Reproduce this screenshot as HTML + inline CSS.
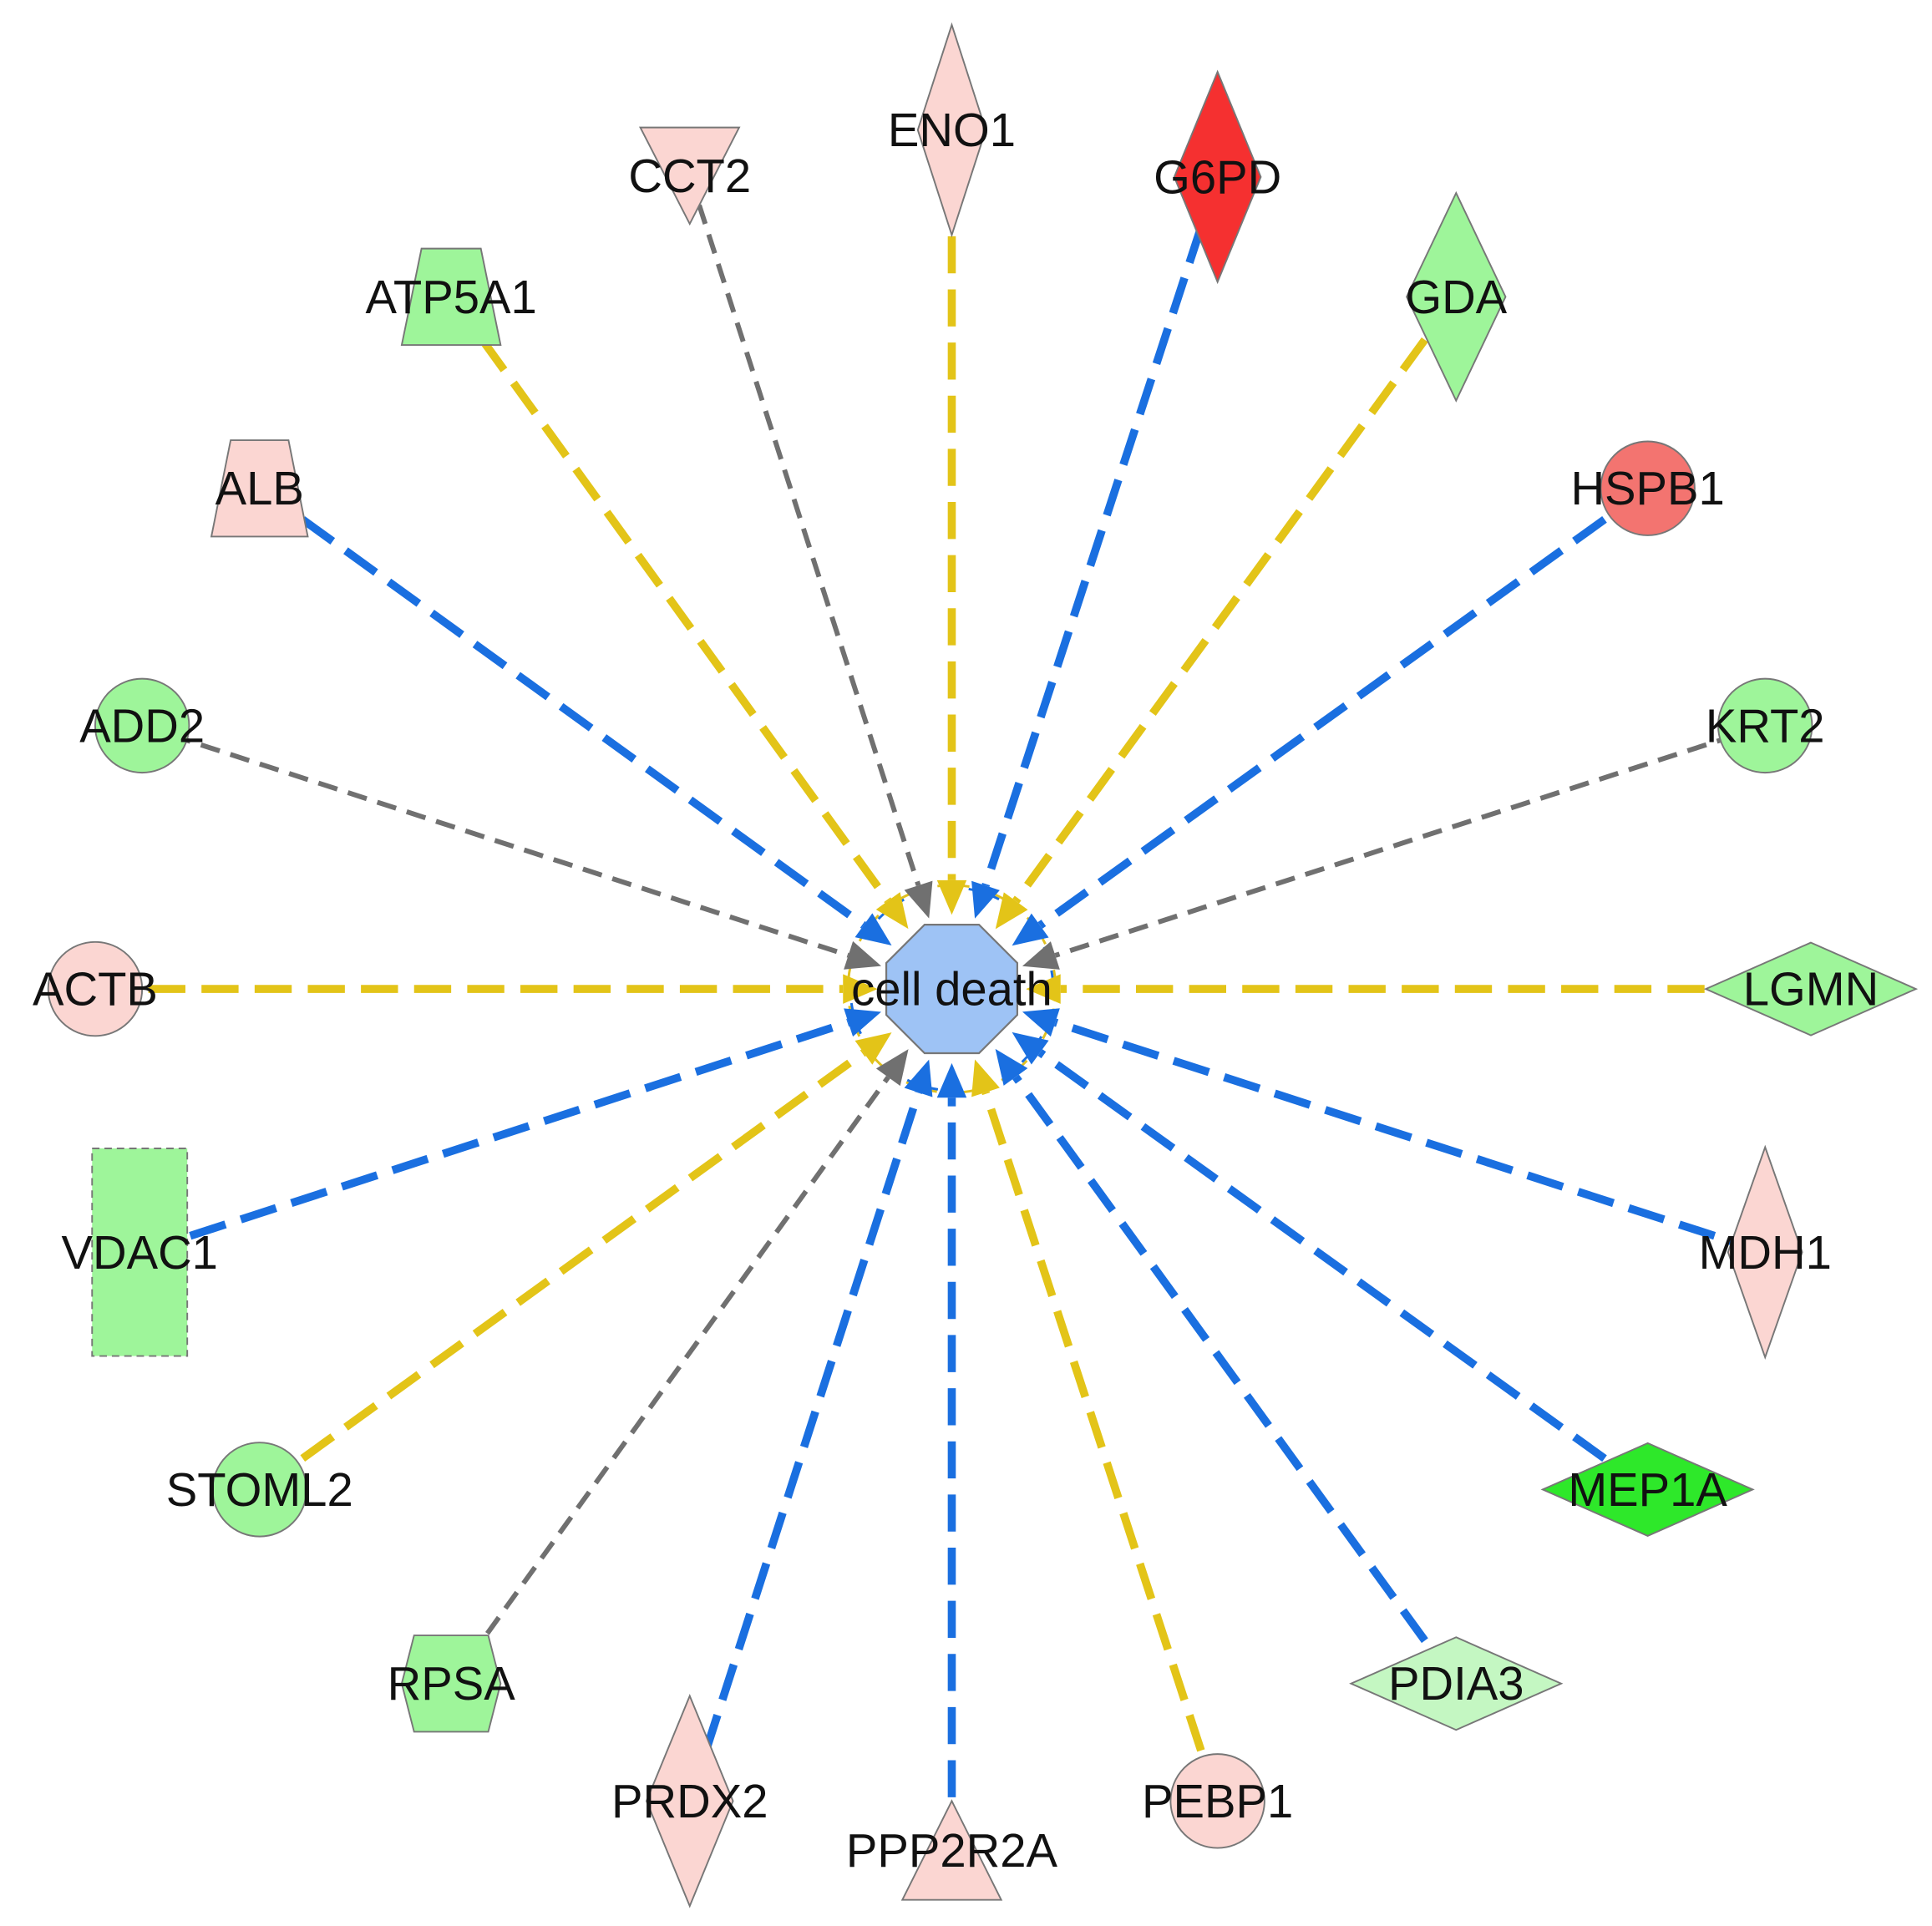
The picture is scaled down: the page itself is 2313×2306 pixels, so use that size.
<!DOCTYPE html>
<html><head><meta charset="utf-8"><style>
html,body{margin:0;padding:0;background:#fff;}
svg{display:block;}
text{font-family:"Liberation Sans",Arial,sans-serif;font-size:38px;fill:#111;text-anchor:middle;dominant-baseline:central;}
</style></head><body>
<svg id="s" width="2313" height="2306" viewBox="0 0 1563 1558" xmlns="http://www.w3.org/2000/svg">
<g id="edges"></g>
<circle cx="770" cy="800" r="84" fill="none" stroke="#e0c020" stroke-width="2" stroke-dasharray="10 6"/>
<circle cx="770" cy="800" r="82" fill="none" stroke="#1a6fe0" stroke-width="2" stroke-dasharray="6 14"/>
<g id="heads"></g>
<polygon points="748,748 792,748 823,779 823,821 792,852 748,852 717,821 717,779" fill="#9ec3f5" stroke="#777" stroke-width="1.5"/>
<g id="nodes" stroke="#777" stroke-width="1.3"></g>
<g id="labels"></g>
</svg>
<script>
var Y='#e3c418',B='#1a6fe0',G='#707070';
var pink='#fbd6d2',grn='#9ef59a',red='#f53030',rd2='#f37470',bg='#2ee82a',lg='#c4f7c2';
var N=[
['ENO1',770,105,'vd',pink,Y,55,170],
['CCT2',558,142,'tri_d',pink,G,80,78],
['G6PD',985,143,'vd',red,B,70,170],
['GDA',1178,240,'vd',grn,Y,80,168],
['ATP5A1',365,240,'trap',grn,Y,80,78],
['ALB',210,395,'trap',pink,B,78,78],
['HSPB1',1333,395,'c',rd2,B,38],
['ADD2',115,587,'c',grn,G,38],
['KRT2',1428,587,'c',grn,G,38],
['ACTB',77,800,'c',pink,Y,38],
['LGMN',1465,800,'hd',grn,Y,170,75],
['VDAC1',113,1013,'rect',grn,B,77,168],
['MDH1',1428,1013,'vd',pink,B,60,170],
['STOML2',210,1205,'c',grn,Y,38],
['MEP1A',1333,1205,'hd',bg,B,170,75],
['RPSA',365,1362,'hex',grn,G,80,78],
['PDIA3',1178,1362,'hd',lg,B,170,75],
['PRDX2',558,1457,'vd',pink,B,70,170],
['PPP2R2A',770,1497,'tri_u',pink,B,80,80],
['PEBP1',985,1457,'c',pink,Y,38]
];
var NS='http://www.w3.org/2000/svg';
function el(t,a,p){var e=document.createElementNS(NS,t);for(var k in a)e.setAttribute(k,a[k]);document.getElementById(p).appendChild(e);return e;}
var cx=770,cy=800;
N.forEach(function(n){
 var x=n[1],y=n[2],dx=x-cx,dy=y-cy,L=Math.sqrt(dx*dx+dy*dy),ux=dx/L,uy=dy/L;
 var tip=60,base=88;
 var gray=n[5]==G;
 var bx=cx+ux*base,by=cy+uy*base;
 el('line',{x1:x,y1:y,x2:bx,y2:by,stroke:n[5],'stroke-width':gray?4:6.5,'stroke-dasharray':gray?'16 9':'30 13'},'edges');
 var tx=cx+ux*tip,ty=cy+uy*tip,px=-uy,py=ux,w=12;
 el('polygon',{points:tx+','+ty+' '+(bx+px*w)+','+(by+py*w)+' '+(bx-px*w)+','+(by-py*w),fill:n[5]},'heads');
 var s=n[3],f=n[4],a=n[6]/2,b=(n[7]||0)/2;
 if(s=='c')el('circle',{cx:x,cy:y,r:n[6],fill:f},'nodes');
 else if(s=='vd'||s=='hd')el('polygon',{points:(x)+','+(y-b)+' '+(x+a)+','+y+' '+x+','+(y+b)+' '+(x-a)+','+y,fill:f},'nodes');
 else if(s=='tri_d')el('polygon',{points:(x-a)+','+(y-b)+' '+(x+a)+','+(y-b)+' '+x+','+(y+b),fill:f},'nodes');
 else if(s=='tri_u')el('polygon',{points:(x-a)+','+(y+b)+' '+(x+a)+','+(y+b)+' '+x+','+(y-b),fill:f},'nodes');
 else if(s=='trap')el('polygon',{points:(x-a*0.6)+','+(y-b)+' '+(x+a*0.6)+','+(y-b)+' '+(x+a)+','+(y+b)+' '+(x-a)+','+(y+b),fill:f},'nodes');
 else if(s=='rect')el('rect',{x:x-a,y:y-b,width:2*a,height:2*b,fill:f,'stroke-dasharray':'6 4'},'nodes');
 else if(s=='hex')el('polygon',{points:(x-a*0.75)+','+(y-b)+' '+(x+a*0.75)+','+(y-b)+' '+(x+a)+','+y+' '+(x+a*0.75)+','+(y+b)+' '+(x-a*0.75)+','+(y+b)+' '+(x-a)+','+y,fill:f},'nodes');
 var t=el('text',{x:x,y:y},'labels');t.textContent=n[0];
});
var t=el('text',{x:770,y:800},'labels');t.textContent='cell death';
</script>
</body></html>
